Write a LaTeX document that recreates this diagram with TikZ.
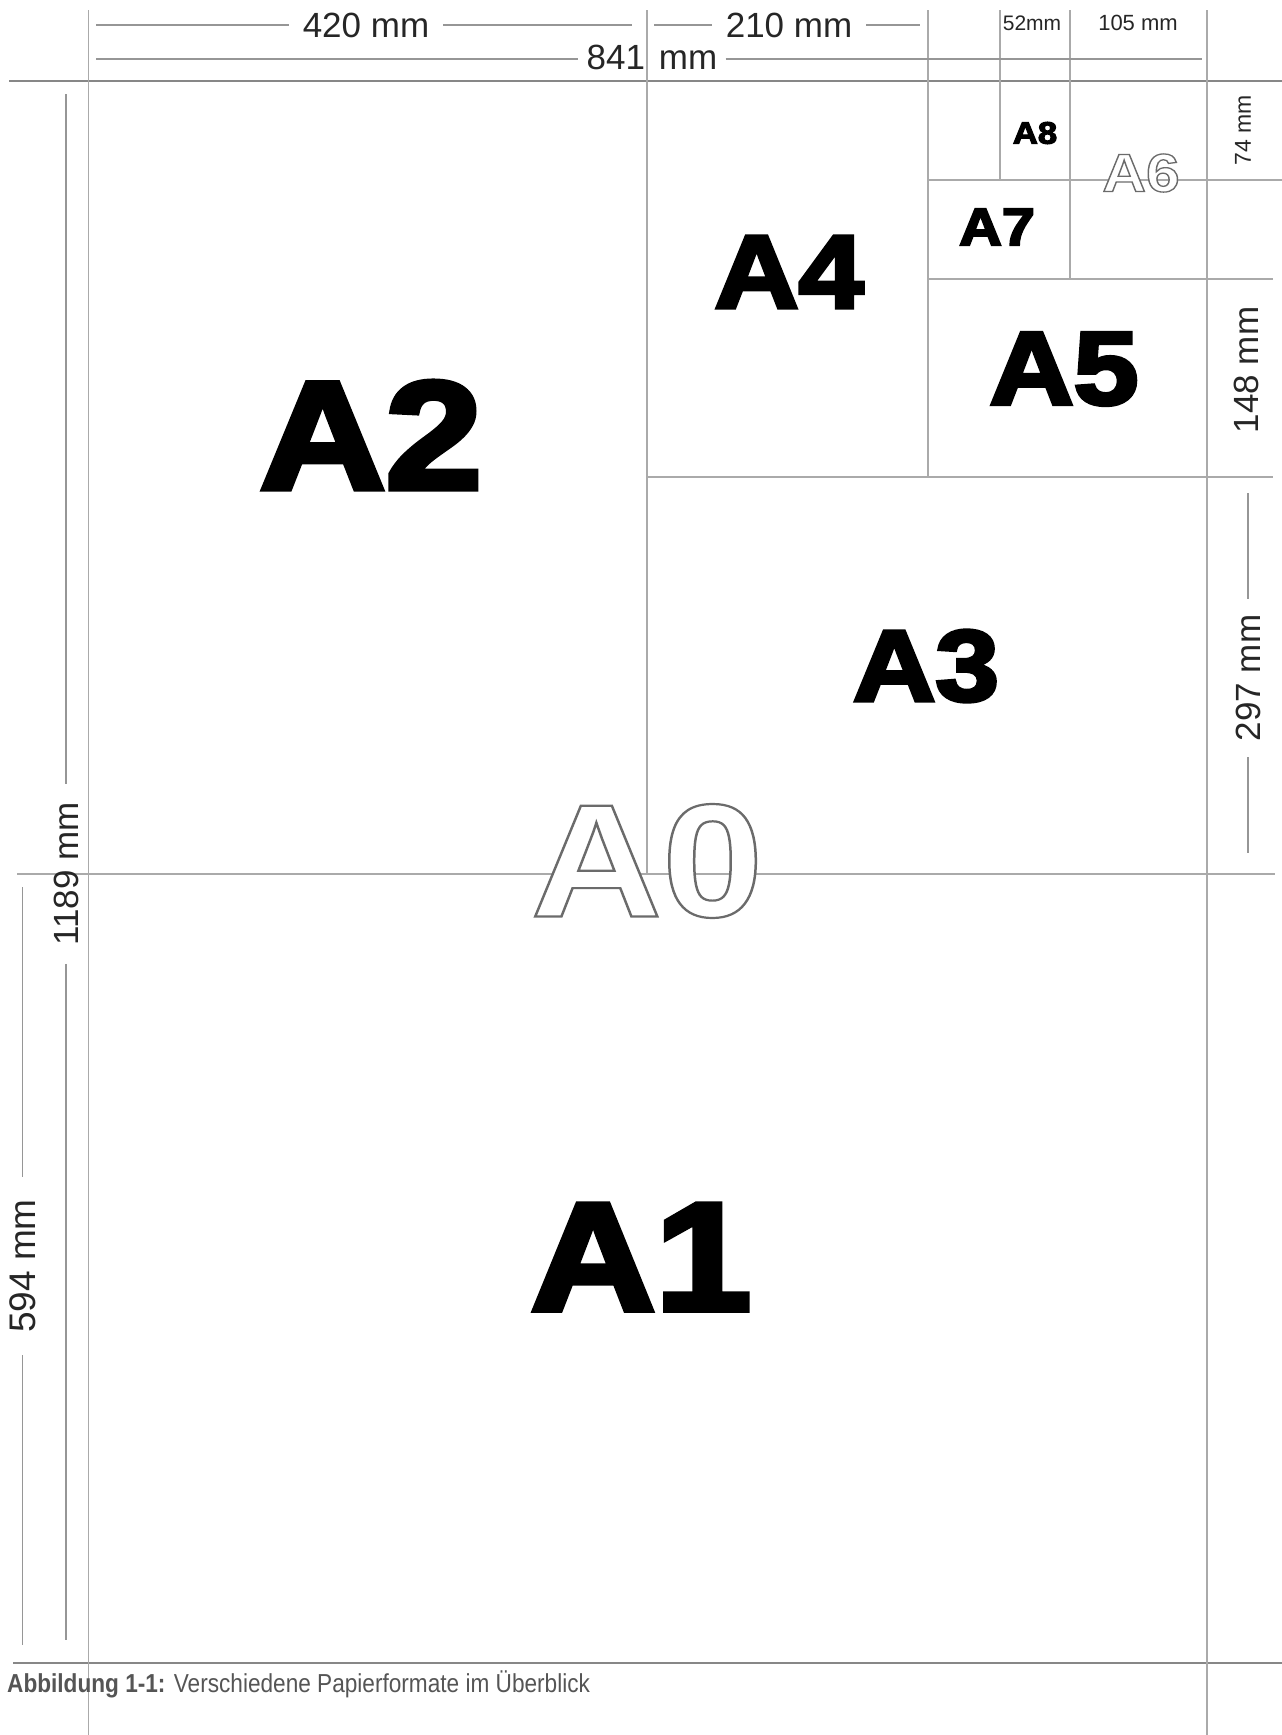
\documentclass[tikz,border=0pt]{standalone}
\usepackage{fontspec}
\setmainfont{Liberation Sans}
\newfontface\heavyfont{Liberation Sans Bold}[FakeBold=3.6]
\usepackage{xcolor}
\usetikzlibrary{positioning,calc}
\definecolor{framec}{RGB}{135,135,135}
\definecolor{cutc}{RGB}{170,170,170}
\definecolor{dimc}{RGB}{150,150,150}
\definecolor{capc}{RGB}{85,85,85}
% white letters with a grey outline
\newcommand{\hollow}[2]{{\color{white}\special{pdf:code 0.42 0.42 0.42 RG #1 w 2 Tr}#2\special{pdf:code 0 Tr}}}
\tikzset{
  frame/.style={draw=framec,line width=2pt},
  cut/.style={draw=cutc,line width=1.2pt},
  dimln/.style={draw=dimc,line width=1.3pt},
  dimtxt/.style={inner ysep=0pt,inner xsep=#1,font=\fontsize{35}{40}\selectfont,text=black!85},
  dimtxt/.default=14pt,
  fmt/.style={inner sep=0pt,font=\heavyfont\fontsize{#1}{#1}\selectfont},
  hfmt/.style={inner sep=0pt,font=\bfseries\fontsize{#1}{#1}\selectfont},
}

\begin{document}
\begin{tikzpicture}[x=1pt,y=-1pt]
  \useasboundingbox (0,0) rectangle (1282,1735);
  % sheet edges and cuts
  \draw[frame] (9,81) -- (1282,81);
  \draw[frame] (13,1663) -- (1282,1663);
  \draw[cut] (88.5,10) -- (88.5,1735);
  \draw[cut] (1207,10) -- (1207,1735);
  \draw[cut] (17,874) -- (1275,874);
  \draw[cut] (647,10) -- (647,874);
  \draw[cut] (647,477) -- (1273,477);
  \draw[cut] (928,10) -- (928,477);
  \draw[cut] (928,279) -- (1273,279);
  \draw[cut] (1070,10) -- (1070,279);
  \draw[cut] (928,180) -- (1282,180);
  \draw[cut] (1000,10) -- (1000,180);
  % outlined formats
  \node[hfmt=161] (a0) at (647,861) {\scalebox{1.13}[1]{\hollow{2.2}{A0}}};
  \node[hfmt=54] (a6) at (1141,173) {\scalebox{1.12}[1]{\hollow{1.3}{A6}}};
  % dimensions
  \node[dimtxt] (w420) at (366,25) {420 mm};
  \node[dimtxt] (w210) at (789,25) {210 mm};
  \node[dimtxt=8pt] (w841) at (652,57) {841\hspace{0.4em}mm};
  \node[dimtxt,font=\fontsize{21}{24}\selectfont] (w52) at (1032,23) {52mm};
  \node[dimtxt,font=\fontsize{22}{24}\selectfont] (w105) at (1138,23) {105 mm};
  \node[dimtxt,rotate=90,font=\fontsize{23}{24}\selectfont] (h74) at (1243,130) {74 mm};
  \node[dimtxt,rotate=90] (h148) at (1246,370) {148 mm};
  \node[dimtxt=16pt,rotate=90] (h297) at (1248,678) {297 mm};
  \node[dimtxt=18pt,rotate=90] (h1189) at (66,874) {1189 mm};
  \node[dimtxt=22pt,rotate=90,font=\fontsize{37}{40}\selectfont] (h594) at (22.5,1266) {594 mm};
  \coordinate (e420a) at (96,25);   \coordinate (e420b) at (632,25);
  \coordinate (e210a) at (654,25);  \coordinate (e210b) at (920,25);
  \coordinate (e841a) at (96,59);   \coordinate (e841b) at (1202,59);
  \coordinate (e297a) at (1248,493); \coordinate (e297b) at (1248,853);
  \coordinate (e1189a) at (66,94);  \coordinate (e1189b) at (66,1640);
  \coordinate (e594a) at (22.5,887); \coordinate (e594b) at (22.5,1645);
  \draw[dimln] (e420a) -- (w420.west);  \draw[dimln] (w420.east) -- (e420b);
  \draw[dimln] (e210a) -- (w210.west);  \draw[dimln] (w210.east) -- (e210b);
  \draw[dimln] (e841a) -- (e841a -| w841.west);  \draw[dimln] (e841b -| w841.east) -- (e841b);
  \draw[dimln] (e297a) -- (h297.east);  \draw[dimln] (h297.west) -- (e297b);
  \draw[dimln] (e1189a) -- (h1189.east);  \draw[dimln] (h1189.west) -- (e1189b);
  \draw[dimln] (e594a) -- (h594.east);  \draw[dimln] (h594.west) -- (e594b);
  % formats
  \node[fmt=154] (a2) at (371,435) {\scalebox{1.13}[1]{A2}};
  \node[fmt=154] (a1) at (641,1257) {\scalebox{1.12}[1]{A1}};
  \node[fmt=104] (a4) at (789,272) {\scalebox{1.12}[1]{A4}};
  \node[fmt=101] (a3) at (926,666) {\scalebox{1.13}[1]{A3}};
  \node[fmt=104] (a5) at (1064,369) {\scalebox{1.12}[1]{A5}};
  \node[fmt=53] (a7) at (997,227) {\scalebox{1.12}[1]{A7}};
  \node[fmt=31] (a8) at (1035,133) {\scalebox{1.12}[1]{A8}};
  % caption
  \node[anchor=base west,inner sep=0pt,text=capc,font=\fontsize{26}{30}\selectfont] (cap) at (7,1692)
    {\scalebox{0.87}[1]{\textbf{Abbildung 1-1:} Verschiedene Papierformate im Überblick}};
\end{tikzpicture}
\end{document}
